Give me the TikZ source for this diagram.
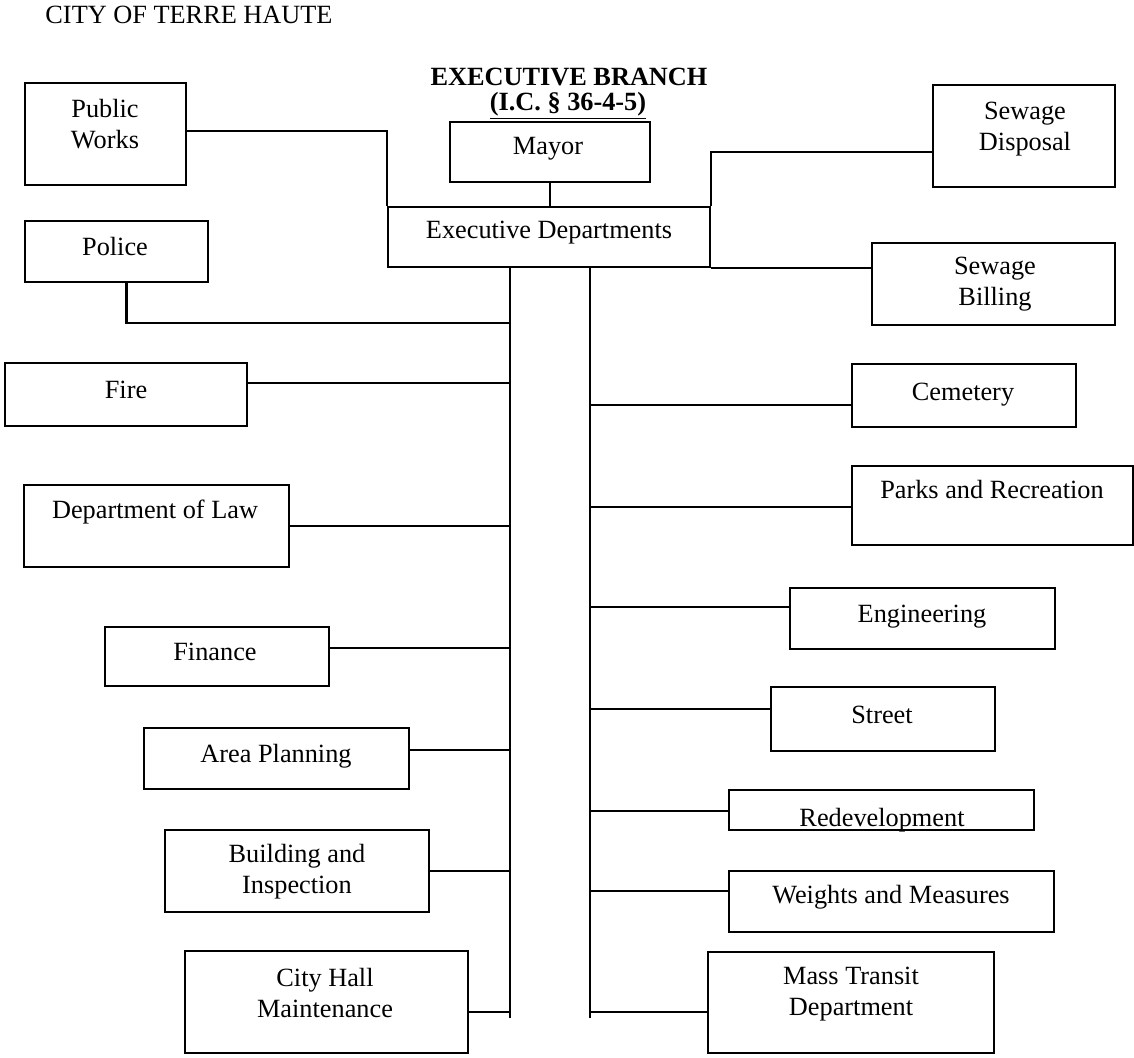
\documentclass[tikz,border=0pt]{standalone}
\usepackage{fontspec}
\setmainfont{Liberation Serif}
\usetikzlibrary{fit}
\tikzset{
  box/.style={draw, line width=1.1pt, inner sep=0pt},
  txt/.style={anchor=base, align=center, inner sep=0pt, font=\fontsize{13.15pt}{15.3pt}\selectfont},
  link/.style={line width=1.1pt}
}
\begin{document}
\begin{tikzpicture}[x=0.5pt, y=-0.5pt]
\useasboundingbox (0,0) rectangle (1134,1057);

% headings
\node[txt] (city) at (189,23) {CITY OF TERRE HAUTE};
\node[txt] (branch) at (569,85) {\textbf{EXECUTIVE BRANCH}};
\node[txt] (code) at (568,110) {\textbf{\underline{(I.C. \S\ 36-4-5)}}};

% top boxes (two line labels sit on the last baseline)
\node[box, fit={(450,122) (650,182)}] (mayor) {};
\node[txt] (mayor-t) at (548,154) {Mayor};
\node[box, fit={(388,207) (710,267)}] (exec) {};
\node[txt] (exec-t) at (549,238) {Executive Departments};
\node[box, fit={(25,83) (186,185)}] (works) {};
\node[txt] (works-t) at (105,148) {Public\\Works};
\node[box, fit={(25,221) (208,282)}] (police) {};
\node[txt] (police-t) at (115,255) {Police};
\node[box, fit={(933,85) (1115,187)}] (disposal) {};
\node[txt] (disposal-t) at (1025,150) {Sewage\\Disposal};
\node[box, fit={(872,243) (1115,325)}] (billing) {};
\node[txt] (billing-t) at (995,305) {Sewage\\Billing};

% left column
\node[box, fit={(5,363) (247,426)}] (fire) {};
\node[txt] (fire-t) at (126,398) {Fire};
\node[box, fit={(24,485) (289,567)}] (law) {};
\node[txt] (law-t) at (155,518) {Department of Law};
\node[box, fit={(105,627) (329,686)}] (finance) {};
\node[txt] (finance-t) at (215,660) {Finance};
\node[box, fit={(144,728) (409,789)}] (area) {};
\node[txt] (area-t) at (276,762) {Area Planning};
\node[box, fit={(165,830) (429,912)}] (building) {};
\node[txt] (building-t) at (297,893) {Building and\\Inspection};
\node[box, fit={(185,951) (468,1053)}] (cityhall) {};
\node[txt] (cityhall-t) at (325,1017) {City Hall\\Maintenance};

% right column
\node[box, fit={(852,364) (1076,427)}] (cemetery) {};
\node[txt] (cemetery-t) at (963,400) {Cemetery};
\node[box, fit={(852,466) (1133,545)}] (parks) {};
\node[txt] (parks-t) at (992,498) {Parks and Recreation};
\node[box, fit={(790,588) (1055,649)}] (engineering) {};
\node[txt] (engineering-t) at (922,622) {Engineering};
\node[box, fit={(771,687) (995,751)}] (street) {};
\node[txt] (street-t) at (882,723) {Street};
\node[box, fit={(729,790) (1034,830)}] (redev) {};
\begin{scope}
  \clip (redev.north west) rectangle (redev.south east);
  \node[txt] (redev-t) at (882,826) {Redevelopment};
\end{scope}
\node[box, fit={(729,871) (1054,932)}] (weights) {};
\node[txt] (weights-t) at (891,903) {Weights and Measures};
\node[box, fit={(708,952) (994,1053)}] (transit) {};
\node[txt] (transit-t) at (851,1015) {Mass Transit\\Department};

% trunks
\coordinate (ltop) at (510,267);
\coordinate (lend) at (510,1018);
\coordinate (rtop) at (590,267);
\coordinate (rend) at (590,1018);
\draw[link] (ltop) -- (lend);
\draw[link] (rtop) -- (rend);

% connectors at the top
\draw[link] (mayor.south) -- (mayor.south |- exec.north);
\draw[link] (exec.north west) -- (exec.north west |- 0,131) -- (works.east |- 0,131);
\draw[link] (exec.north east) -- (exec.north east |- 0,152) -- (disposal.west |- 0,152);
\draw[link] (exec.south east) -- (billing.west |- exec.south east);
\draw[link] ([xshift=5pt]police.south) -- ([xshift=5pt]police.south |- 0,323) -- (ltop |- 0,323);

% connectors, left
\draw[link] (fire.east |- 0,383) -- (ltop |- 0,383);
\draw[link] (law.east |- 0,526) -- (ltop |- 0,526);
\draw[link] (finance.east |- 0,648) -- (ltop |- 0,648);
\draw[link] (area.east |- 0,750) -- (ltop |- 0,750);
\draw[link] (building.east |- 0,871) -- (ltop |- 0,871);
\draw[link] (cityhall.east |- 0,1012) -- (ltop |- 0,1012);

% connectors, right
\draw[link] (rtop |- 0,405) -- (cemetery.west |- 0,405);
\draw[link] (rtop |- 0,507) -- (parks.west |- 0,507);
\draw[link] (rtop |- 0,607) -- (engineering.west |- 0,607);
\draw[link] (rtop |- 0,709) -- (street.west |- 0,709);
\draw[link] (rtop |- 0,811) -- (redev.west |- 0,811);
\draw[link] (rtop |- 0,891) -- (weights.west |- 0,891);
\draw[link] (rtop |- 0,1012) -- (transit.west |- 0,1012);
\end{tikzpicture}
\end{document}
